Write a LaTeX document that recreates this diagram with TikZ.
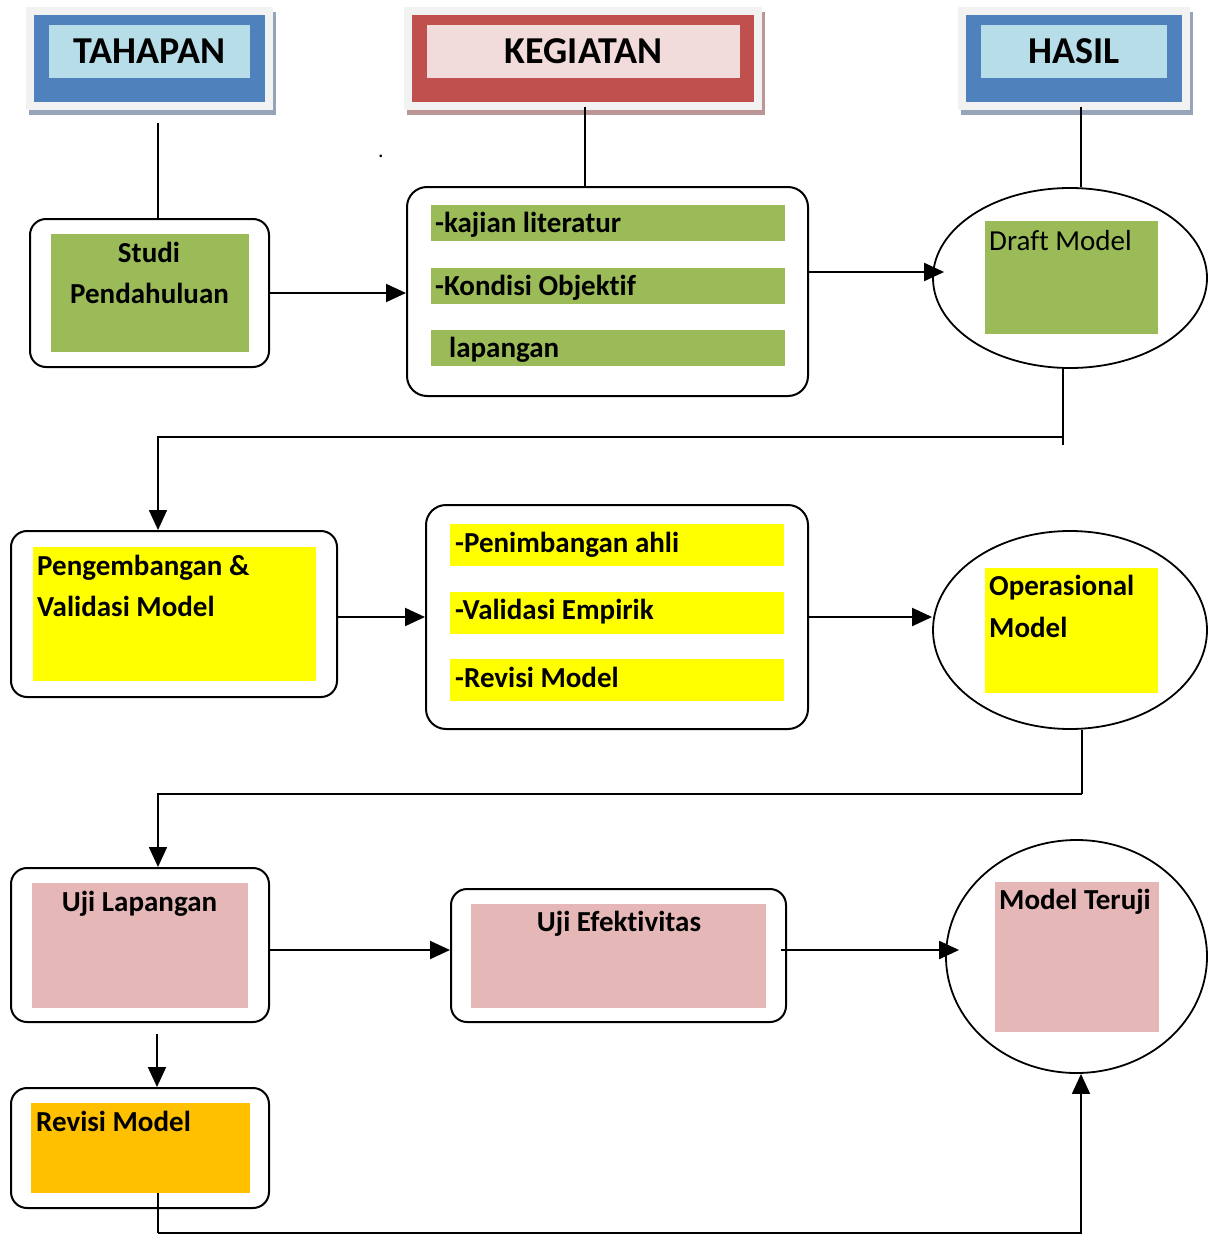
\documentclass[tikz,border=0pt]{standalone}
\usepackage{fontspec}
\setmainfont[Ligatures={NoCommon,NoContextual},Contextuals=NoAlternate]{Carlito}
\usepackage{tikz}
\usetikzlibrary{arrows.meta,positioning,calc,shapes.geometric}
\definecolor{hdblue}{HTML}{4F81BD}
\definecolor{hdlight}{HTML}{B7DDE8}
\definecolor{hdred}{HTML}{C0504D}
\definecolor{hdpink}{HTML}{F2DCDB}
\definecolor{framegray}{HTML}{F2F2F2}
\definecolor{shadowblue}{RGB}{150,163,184}
\definecolor{shadowred}{RGB}{186,150,150}
\definecolor{stgreen}{HTML}{9BBB59}
\definecolor{styellow}{HTML}{FFFF00}
\definecolor{stpink}{HTML}{E5B8B7}
\definecolor{storange}{HTML}{FFC000}

\begin{document}
\begin{tikzpicture}[x=1pt,y=-1pt,
  stagebox/.style={draw,line width=2pt,rounded corners=16pt,inner sep=0pt},
  fillbox/.style={inner sep=0pt},
  resultoval/.style={draw,ellipse,line width=1.8pt,inner sep=0pt},
  lbl/.style={inner sep=0pt,font=\fontsize{29}{35}\selectfont\bfseries},
  hdlbl/.style={inner sep=0pt,font=\fontsize{38}{44}\selectfont\bfseries},
  thinlink/.style={line width=1.6pt},
  arr/.style={line width=2pt,-{Triangle[length=20pt,width=18pt]}}]
  \useasboundingbox (0,0) rectangle (1208,1234);

  % headers
  \fill[shadowblue] (29,12) rectangle (276,115);
  \fill[framegray] (26,7) rectangle (273,110);
  \node[fillbox,fill=hdblue,minimum width=231,minimum height=87] (tahapanbox) at (149.5,58) {};
  \node[hdlbl,fill=hdlight,minimum width=201,minimum height=53] (tahapan) at (149.5,51.5) {TAHAPAN};
  \fill[shadowred] (407,12) rectangle (765,115);
  \fill[framegray] (404,7) rectangle (762,110);
  \node[fillbox,fill=hdred,minimum width=342,minimum height=87] (kegbox) at (583,58) {};
  \node[hdlbl,fill=hdpink,minimum width=313,minimum height=53] (kegtitle) at (583.5,51.5) {KEGIATAN};
  \fill[shadowblue] (961,12) rectangle (1193,115);
  \fill[framegray] (958,7) rectangle (1190,110);
  \node[fillbox,fill=hdblue,minimum width=216,minimum height=87] (hasilbox) at (1074,58) {};
  \node[hdlbl,fill=hdlight,minimum width=186,minimum height=53] (hasil) at (1074,51.5) {HASIL};
  \node[inner sep=0pt,font=\fontsize{22}{26}\selectfont,anchor=base] (dot) at (381,157) {.};

  % row 1
  \node[stagebox,minimum width=239,minimum height=148] (studi) at (149.5,293) {};
  \node[fillbox,fill=stgreen,minimum width=198,minimum height=118] (studifill) at (150,293) {};
  \node[lbl,anchor=base] (studia) at (149,262) {Studi};
  \node[lbl,anchor=base] (studib) at (149.5,303) {Pendahuluan};
  \node[stagebox,rounded corners=20pt,minimum width=401,minimum height=209] (kegiatan) at (607.5,291.5) {};
  \node[fillbox,fill=stgreen,minimum width=354,minimum height=36] (kega) at (608,223) {};
  \node[fillbox,fill=stgreen,minimum width=354,minimum height=36] (kegb) at (608,286) {};
  \node[fillbox,fill=stgreen,minimum width=354,minimum height=36] (kegc) at (608,348) {};
  \node[lbl,anchor=base west] (kegatxt) at (435,232) {-kajian literatur};
  \node[lbl,anchor=base west] (kegbtxt) at (435,295) {-Kondisi Objekt\kern0pt if};
  \node[lbl,anchor=base west] (kegctxt) at (449,357) {lapangan};
  \node[resultoval,minimum width=274,minimum height=180] (draft) at (1070,278) {};
  \node[fillbox,fill=stgreen,minimum width=173,minimum height=113] (draftfill) at (1071.5,277.5) {};
  \node[inner sep=0pt,font=\fontsize{29}{35}\selectfont,anchor=base west] (drafttxt) at (989,250) {Draft Model};

  % row 2
  \node[stagebox,minimum width=326,minimum height=166] (peng) at (174,614) {};
  \node[fillbox,fill=styellow,minimum width=283,minimum height=134] (pengfill) at (174.5,614) {};
  \node[lbl,anchor=base west] (penga) at (37,575) {Pengembangan \&};
  \node[lbl,anchor=base west] (pengb) at (37,616) {Validasi Model};
  \node[stagebox,rounded corners=20pt,minimum width=382,minimum height=224] (val) at (617,617) {};
  \node[fillbox,fill=styellow,minimum width=334,minimum height=42] (vala) at (617,545) {};
  \node[fillbox,fill=styellow,minimum width=334,minimum height=42] (valb) at (617,613) {};
  \node[fillbox,fill=styellow,minimum width=334,minimum height=42] (valc) at (617,680) {};
  \node[lbl,anchor=base west] (valatxt) at (455,552) {-Penimbangan ahli};
  \node[lbl,anchor=base west] (valbtxt) at (455,619) {-Validasi Empirik};
  \node[lbl,anchor=base west] (valctxt) at (455,687) {-Revisi Model};
  \node[resultoval,minimum width=274,minimum height=198] (oper) at (1070,630) {};
  \node[fillbox,fill=styellow,minimum width=173,minimum height=125] (operfill) at (1071.5,630.5) {};
  \node[lbl,anchor=base west] (opera) at (989,595) {Operasional};
  \node[lbl,anchor=base west] (operb) at (989,637) {Model};

  % row 3
  \node[stagebox,minimum width=258,minimum height=154] (uji) at (140,945) {};
  \node[fillbox,fill=stpink,minimum width=216,minimum height=125] (ujifill) at (140,945.5) {};
  \node[lbl,anchor=base] (ujitxt) at (139.5,911) {Uji Lapangan};
  \node[stagebox,minimum width=335,minimum height=133] (efek) at (618.5,955.5) {};
  \node[fillbox,fill=stpink,minimum width=295,minimum height=104] (efekfill) at (618.5,956) {};
  \node[lbl,anchor=base] (efektxt) at (619,931) {Uji Efekt\kern0pt ivitas};
  \node[resultoval,minimum width=261,minimum height=233] (teruji) at (1076.5,956.5) {};
  \node[fillbox,fill=stpink,minimum width=164,minimum height=150] (terujifill) at (1077,957) {};
  \node[lbl,anchor=base west] (terujitxt) at (999,909) {Model Teruji};
  \node[stagebox,minimum width=258,minimum height=120] (revisi) at (140,1148) {};
  \node[fillbox,fill=storange,minimum width=219,minimum height=90] (revfill) at (140.5,1148) {};
  \node[lbl,anchor=base west] (revtxt) at (36,1131) {Revisi Model};

  % connectors
  \coordinate (tahapanfoot) at (158,123);
  \draw[thinlink] (tahapanfoot) -- (tahapanfoot |- studi.north);
  \draw[thinlink] ([xshift=2pt,yshift=-5pt]kegbox.south) -- ([xshift=2pt]kegbox.south |- kegiatan.north);
  \draw[thinlink] ([xshift=7pt,yshift=-5pt]hasilbox.south) -- ([xshift=7pt]hasilbox.south |- draft.north);
  \draw[arr] (studi.east) -- (studi.east -| kegiatan.west);
  \draw[arr,shorten >=-12pt] ([yshift=19.5pt]kegiatan.east) -- ([yshift=19.5pt]kegiatan.east -| draft.west);
  \coordinate (bendA) at (1063,437);
  \draw[thinlink] ([xshift=-7pt]draft.south) -- (bendA) -- ++(0,8);
  \draw[arr,line width=1.6pt] (bendA) -| ([xshift=-16pt]peng.north);
  \draw[arr] (peng.east |- val.west) -- (val.west);
  \draw[arr] (val.east) -- (val.east -| oper.west);
  \coordinate (bendB) at (1082,794);
  \draw[thinlink] ([xshift=12pt]oper.south) -- (bendB);
  \draw[arr,line width=1.6pt] (bendB) -| ([xshift=18pt]uji.north);
  \draw[arr] ([yshift=-5pt]uji.east) -- ([yshift=-5pt]uji.east -| efek.west);
  \draw[arr,shorten <=-6pt,shorten >=-14pt] ([yshift=5.5pt]efek.east) -- ([yshift=5.5pt]efek.east -| teruji.west);
  \draw[arr,shorten <=11pt] ([xshift=17pt]uji.south) -- ([xshift=17pt]uji.south |- revisi.north);
  \coordinate (bendC) at (158,1233);
  \draw[thinlink] ([xshift=17.5pt]revfill.south) -- (bendC);
  \draw[arr,line width=1.6pt] (bendC) -| ([xshift=4.5pt]teruji.south);
\end{tikzpicture}
\end{document}
